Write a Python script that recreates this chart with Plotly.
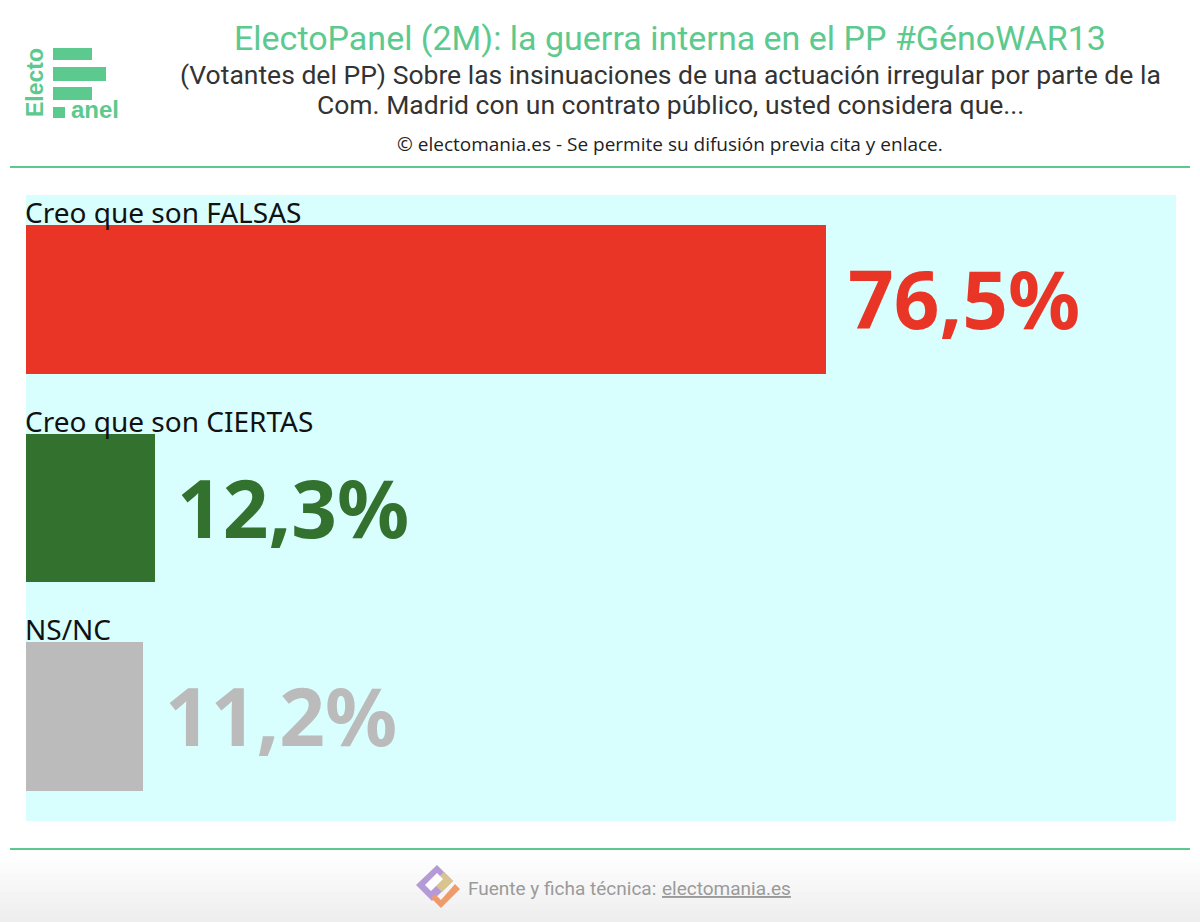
import plotly.graph_objects as go

# ElectoPanel 2M - votantes del PP
categories = ['Creo que son FALSAS', 'Creo que son CIERTAS', 'NS/NC']
values = [76.5, 12.3, 11.2]
value_labels = ['76,5%', '12,3%', '11,2%']
colours = ['#E93526', '#33722E', '#BBBBBB']

W, H = 1200, 922
L, R, T, B = 26, 24, 195, 101
PW, PH = W - L - R, H - T - B

GREEN = '#5CC98E'


def px(x):
    return (x - L) / PW


def py(y):
    return (H - B - y) / PH


pos = list(range(len(categories)))

fig = go.Figure()
fig.add_trace(go.Bar(
    x=values, y=pos, orientation='h', width=0.713,
    marker=dict(color=colours, line=dict(width=0)),
    hoverinfo='skip', showlegend=False,
))

annotations = []
# category labels sit just above each bar
for i, cat in enumerate(categories):
    annotations.append(dict(
        text=cat, x=0, y=i - 0.3565, xref='x', yref='y',
        xanchor='left', yanchor='bottom', showarrow=False, xshift=-3, yshift=-8,
        font=dict(family='Noto Sans', size=28, color='#111111'),
    ))
    annotations.append(dict(
        text='<b>' + value_labels[i] + '</b>', x=values[i], y=i, xref='x', yref='y',
        xanchor='left', yanchor='middle', showarrow=False, xshift=20, yshift=2,
        font=dict(family='Noto Sans', size=80, color=colours[i]),
    ))

# header
annotations += [
    dict(text='ElectoPanel (2M): la guerra interna en el PP #GénoWAR13',
         x=px(670), y=py(38), xref='paper', yref='paper', showarrow=False,
         xanchor='center', yanchor='middle',
         font=dict(family='Roboto', size=34, color=GREEN)),
    dict(text='(Votantes del PP) Sobre las insinuaciones de una actuación irregular por parte de la',
         x=px(670), y=py(75), xref='paper', yref='paper', showarrow=False,
         xanchor='center', yanchor='middle',
         font=dict(family='Roboto', size=26.5, color='#333333')),
    dict(text='Com. Madrid con un contrato público, usted considera que...',
         x=px(670), y=py(104), xref='paper', yref='paper', showarrow=False,
         xanchor='center', yanchor='middle',
         font=dict(family='Roboto', size=26.5, color='#333333')),
    dict(text='© electomania.es - Se permite su difusión previa cita y enlace.',
         x=px(670), y=py(144), xref='paper', yref='paper', showarrow=False,
         xanchor='center', yanchor='middle',
         font=dict(family='Open Sans', size=19, color='#222222')),
    # logo text
    dict(text='<b>Electo</b>', x=px(35), y=py(83), xref='paper', yref='paper', showarrow=False,
         xanchor='center', yanchor='middle', textangle=-90,
         font=dict(family='Liberation Sans', size=23, color=GREEN)),
    dict(text='<b>anel</b>', x=px(69), y=py(109), xref='paper', yref='paper', showarrow=False,
         xanchor='left', yanchor='middle',
         font=dict(family='Liberation Sans', size=24, color=GREEN)),
    # footer
    dict(text='Fuente y ficha técnica:', x=px(658), y=py(888), xref='paper', yref='paper',
         showarrow=False, xanchor='right', yanchor='middle',
         font=dict(family='Roboto', size=19, color='#9A9A9A')),
    dict(text='electomania.es', x=px(660), y=py(888), xref='paper', yref='paper',
         showarrow=False, xanchor='left', yanchor='middle',
         font=dict(family='Roboto', size=19, color='#9A9A9A', lineposition='under')),
]

shapes = []
# footer background fade
for k in range(12):
    y0 = 850 + k * 6
    g = 255 - int(k * 1.6)
    shapes.append(dict(type='rect', xref='paper', yref='paper', layer='below',
                       x0=px(0), x1=px(W), y0=py(y0), y1=py(y0 + 6),
                       line=dict(width=0), fillcolor=f'rgb({g},{g},{g})'))
# separator lines
for yy in (167, 849):
    shapes.append(dict(type='line', xref='paper', yref='paper',
                       x0=px(10), x1=px(1190), y0=py(yy), y1=py(yy),
                       line=dict(color=GREEN, width=2)))
# logo bars
for x0, x1, y0, y1 in [(53, 92, 48, 60), (53, 106, 67, 81), (53, 92, 87, 100), (53, 65, 107, 118)]:
    shapes.append(dict(type='rect', xref='paper', yref='paper',
                       x0=px(x0), x1=px(x1), y0=py(y0), y1=py(y1),
                       line=dict(width=0), fillcolor=GREEN))


# footer icon (tilted square + tick)
def path(pts):
    return 'M ' + ' L '.join(f'{px(a)},{py(b)}' for a, b in pts) + ' Z'


shapes.append(dict(type='path', xref='paper', yref='paper',
                   path=path([(437, 865), (453, 881), (432, 901), (416, 885)]),
                   fillcolor='#B59AD8', line=dict(width=0)))
shapes.append(dict(type='path', xref='paper', yref='paper',
                   path=path([(444, 872), (453, 881), (442, 892), (433, 883)]),
                   fillcolor='#D9C48F', line=dict(width=0)))
shapes.append(dict(type='path', xref='paper', yref='paper',
                   path=path([(437, 873), (443, 879), (431, 891), (425, 885)]),
                   fillcolor='#FFFFFF', line=dict(width=0)))
shapes.append(dict(type='path', xref='paper', yref='paper',
                   path=path([(455, 884), (460, 889), (441, 908), (431, 898), (435, 894), (441, 900)]),
                   fillcolor='#EE9A6A', line=dict(width=0)))

fig.update_layout(
    width=W, height=H,
    margin=dict(l=L, r=R, t=T, b=B, pad=0),
    paper_bgcolor='#FFFFFF',
    plot_bgcolor='#D8FEFE',
    bargap=0,
    xaxis=dict(range=[0, 110], visible=False, fixedrange=True),
    yaxis=dict(range=[2.5, -0.5], visible=False, fixedrange=True),
    annotations=annotations,
    shapes=shapes,
)

fig.write_html('out.html', config={'displayModeBar': False},
               post_script="document.body.style.margin='0';")
